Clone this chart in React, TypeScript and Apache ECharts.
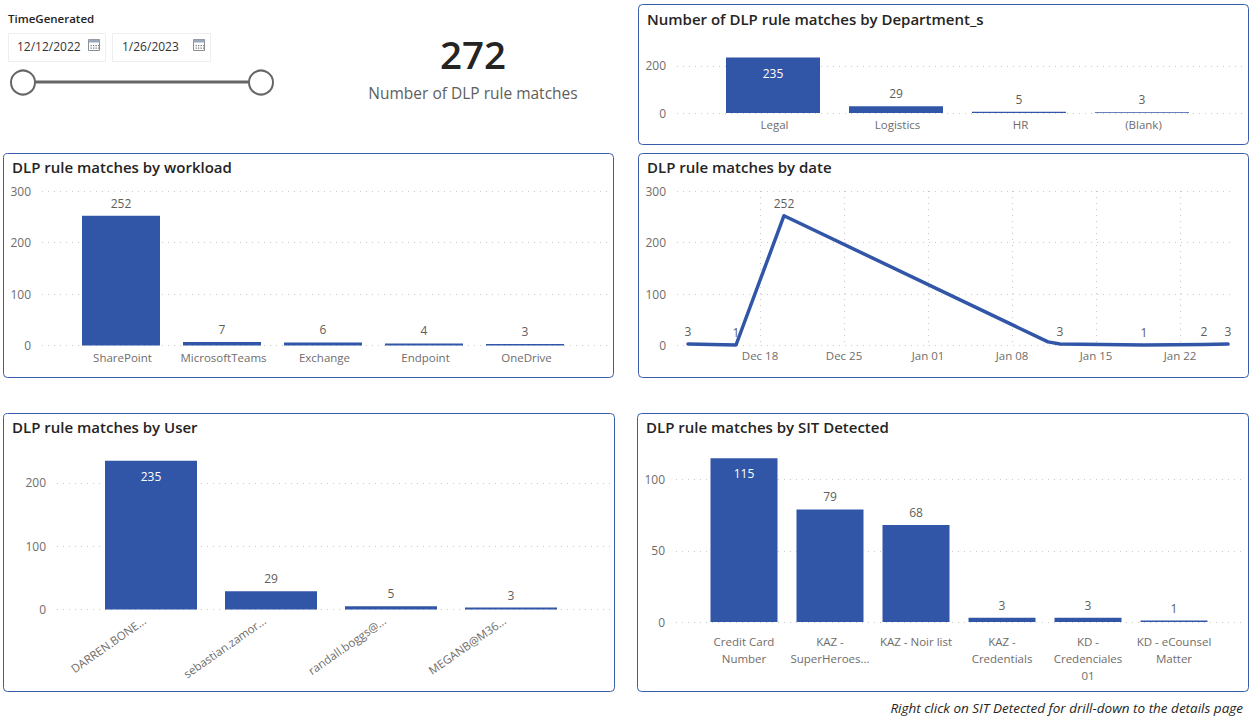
import React, { useEffect, useRef } from "react";
import * as echarts from "echarts";

const FONT = "'Open Sans', 'Noto Sans', sans-serif";
const BLUE = "#3256a7";
const BORDER = "#3a5dab";
const AXIS_TEXT = "#6f6d6b";
const LABEL_TEXT = "#605e5c";
const TITLE_TEXT = "#252423";
const GRID_LINE = "#c9c9c9";

const deptCategories = ["Legal", "Logistics", "HR", "(Blank)"];
const deptValues = [235, 29, 5, 3];

const workloadCategories = ["SharePoint", "MicrosoftTeams", "Exchange", "Endpoint", "OneDrive"];
const workloadValues = [252, 7, 6, 4, 3];

const dateDays = ["2022-12-12", "2022-12-16", "2022-12-20", "2023-01-11", "2023-01-12", "2023-01-19", "2023-01-24", "2023-01-26"];
const dateValues = [3, 1, 252, 7, 3, 1, 2, 3];
const dateUnlabelled = ["2023-01-11"];
const dateTicks = ["2022-12-18", "2022-12-25", "2023-01-01", "2023-01-08", "2023-01-15", "2023-01-22"];
const dateTickLabels = ["Dec 18", "Dec 25", "Jan 01", "Jan 08", "Jan 15", "Jan 22"];

const userCategories = ["DARREN.BONE...", "sebastian.zamor...", "randall.boggs@...", "MEGANB@M36..."];
const userValues = [235, 29, 5, 3];

const sitCategories = ["Credit Card\nNumber", "KAZ -\nSuperHeroes...", "KAZ - Noir list", "KAZ -\nCredentials", "KD -\nCredenciales\n01", "KD - eCounsel\nMatter"];
const sitValues = [115, 79, 68, 3, 3, 1];

const ms = (d: string) => new Date(d + "T00:00:00").getTime();

type Panel = {
  title: string; titleX: number; titleY: number;
  cats: string[]; vals: number[];
  axisL: number; axisR: number; bandL: number; bandR: number;
  top: number; bottom: number; max: number; step: number;
  barW: number; insideAbove: number; rotate?: number; labelMargin?: number; lineH?: number;
  labelPadding?: number[];
};

const panels: Panel[] = [
  { title: "Number of DLP rule matches by Department_s", titleX: 647, titleY: 11, cats: deptCategories, vals: deptValues, axisL: 677, axisR: 1243, bandL: 711.5, bandR: 1203.5, top: 54, bottom: 113, max: 250, step: 200, barW: 94, insideAbove: 100, labelMargin: 4, labelPadding: [0, 0, 0, 3] },
  { title: "DLP rule matches by workload", titleX: 12, titleY: 159, cats: workloadCategories, vals: workloadValues, axisL: 42, axisR: 607, bandL: 70.5, bandR: 575.5, top: 191, bottom: 345.5, max: 300, step: 100, barW: 78, insideAbove: 1000, labelMargin: 4, labelPadding: [0, 0, 0, 3] },
  { title: "DLP rule matches by User", titleX: 12, titleY: 419, cats: userCategories, vals: userValues, axisL: 57, axisR: 610, bandL: 91, bandR: 571, top: 457.5, bottom: 609.5, max: 240, step: 100, barW: 92, insideAbove: 100, rotate: 35, labelMargin: 5, labelPadding: [0, 8, 0, 0] },
  { title: "DLP rule matches by SIT Detected", titleX: 646, titleY: 419, cats: sitCategories, vals: sitValues, axisL: 676, axisR: 1243, bandL: 701, bandR: 1217, top: 451, bottom: 622, max: 120, step: 50, barW: 67, insideAbove: 100, labelMargin: 11, lineH: 17, labelPadding: [0, 0, 0, 0] },
];

const cardBoxes = [
  [638.5, 4.5, 610, 140],
  [3.5, 153.5, 610, 224],
  [638.5, 153.5, 610, 224],
  [3.5, 413.5, 611, 278],
  [637.5, 413.5, 611, 278],
];

const splitLine = { show: true, lineStyle: { color: GRID_LINE, type: [1, 5] as number[], width: 1 } };
const axisLabelBase = { color: AXIS_TEXT, fontFamily: FONT, fontSize: 12 };
const titleStyle = { color: TITLE_TEXT, fontFamily: FONT, fontSize: 15, fontWeight: 600 as const };

function dataLabel(value: number, threshold: number) {
  return value >= threshold
    ? { show: true, position: "insideTop" as const, distance: 9.5, color: "#ffffff", fontFamily: FONT, fontSize: 12 }
    : { show: true, position: "top" as const, distance: 6.5, color: LABEL_TEXT, fontFamily: FONT, fontSize: 12 };
}

function calendar(x: number, y: number) {
  const dots = [];
  for (let r = 0; r < 2; r++) for (let c = 0; c < 4; c++) {
    dots.push({ type: "rect", shape: { x: 2.5 + c * 2.5, y: 6 + r * 2.5, width: 1.3, height: 1.3 }, style: { fill: "#7a7a7a" } });
  }
  return {
    type: "group", x, y, silent: true,
    children: [
      { type: "rect", shape: { x: 0.5, y: 0.5, width: 11, height: 11 }, style: { fill: "#fff", stroke: "#8a8f96", lineWidth: 1 } },
      { type: "rect", shape: { x: 0.5, y: 0.5, width: 11, height: 3 }, style: { fill: "#9aa7b8" } },
      ...dots,
    ],
  };
}

function buildOption() {
  const grids: any[] = [];
  const xAxes: any[] = [];
  const yAxes: any[] = [];
  const series: any[] = [];

  panels.forEach((p) => {
    // gridline layer: spans the whole plot width and carries the value axis
    const gridA = grids.length;
    grids.push({ left: p.axisL, width: p.axisR - p.axisL, top: p.top, height: p.bottom - p.top });
    xAxes.push({ gridIndex: gridA, type: "category", show: false, data: p.cats });
    yAxes.push({
      gridIndex: gridA, type: "value", min: 0, max: p.max, interval: p.step,
      axisLine: { show: false }, axisTick: { show: false },
      axisLabel: { ...axisLabelBase, margin: 11, showMaxLabel: p.max % p.step === 0 },
      splitLine: { ...splitLine, showMaxLine: p.max % p.step === 0 },
    });
    // mark layer: the inset band area holding the columns and category labels
    const gridB = grids.length;
    grids.push({ left: p.bandL, width: p.bandR - p.bandL, top: p.top, height: p.bottom - p.top });
    xAxes.push({
      gridIndex: gridB, type: "category", data: p.cats,
      axisLine: { show: false }, axisTick: { show: false },
      axisLabel: {
        ...axisLabelBase, fontSize: 11.5, interval: 0, margin: p.labelMargin ?? 6, rotate: p.rotate ?? 0,
        lineHeight: p.lineH ?? 15, padding: p.labelPadding ?? 0,
      },
    });
    yAxes.push({ gridIndex: gridB, type: "value", min: 0, max: p.max, show: false, splitLine: { show: false } });
    series.push({
      type: "bar", xAxisIndex: gridB, yAxisIndex: gridB, barWidth: p.barW,
      itemStyle: { color: BLUE },
      data: p.vals.map((v) => ({ value: v, label: dataLabel(v, p.insideAbove) })),
    });
  });

  // date panel: one continuous date axis, with weekly ticks
  const gridD = grids.length;
  const tickValues = dateTicks.map(ms);
  grids.push({ left: 677, width: 558, top: 191, height: 154.5 });
  xAxes.push({
    gridIndex: gridD, type: "value",
    min: new Date("2022-12-11T02:00:00").getTime(),
    max: new Date("2023-01-26T14:00:00").getTime(),
    axisLine: { show: false },
    axisTick: { show: false, customValues: tickValues },
    axisLabel: {
      ...axisLabelBase, fontSize: 11.5, margin: 4, hideOverlap: false,
      customValues: tickValues,
      formatter: (v: number) => dateTickLabels[tickValues.indexOf(v)] ?? "",
    },
    splitLine,
  });
  yAxes.push({
    gridIndex: gridD, type: "value", min: 0, max: 300, interval: 100,
    axisLine: { show: false }, axisTick: { show: false },
    axisLabel: { ...axisLabelBase, margin: 11 },
    splitLine,
  });
  series.push({
    type: "line", xAxisIndex: gridD, yAxisIndex: gridD,
    symbol: "circle", symbolSize: 1, z: 5,
    lineStyle: { color: BLUE, width: 3.5, join: "round", cap: "round" },
    itemStyle: { color: BLUE },
    data: dateDays.map((d, i) => ({
      value: [ms(d), dateValues[i]],
      label: { show: !dateUnlabelled.includes(d), position: "top", distance: 6, color: LABEL_TEXT, fontFamily: FONT, fontSize: 12 },
    })),
  });

  return {
    animation: false,
    backgroundColor: "#ffffff",
    title: [
      ...panels.map((p) => ({ text: p.title, left: p.titleX, top: p.titleY, padding: 0, textStyle: titleStyle })),
      { text: "DLP rule matches by date", left: 647, top: 159, padding: 0, textStyle: titleStyle },
    ],
    grid: grids,
    xAxis: xAxes,
    yAxis: yAxes,
    series,
    graphic: [
      ...cardBoxes.map(([x, y, width, height]) => ({
        type: "rect", silent: true, z: -1,
        shape: { x, y, width, height, r: 4 },
        style: { fill: "#ffffff", stroke: BORDER, lineWidth: 1 },
      })),
      { type: "text", x: 8, y: 12, style: { text: "TimeGenerated", fill: "#252423", font: `600 11.5px ${FONT}` } },
      { type: "rect", shape: { x: 8.5, y: 33.5, width: 97, height: 28 }, style: { fill: "#fff", stroke: "#eeeeee", lineWidth: 1 } },
      { type: "rect", shape: { x: 112.5, y: 33.5, width: 98, height: 28 }, style: { fill: "#fff", stroke: "#eeeeee", lineWidth: 1 } },
      { type: "text", x: 17, y: 40, style: { text: "12/12/2022", fill: "#333333", font: `12px ${FONT}` } },
      { type: "text", x: 122, y: 40, style: { text: "1/26/2023", fill: "#333333", font: `12px ${FONT}` } },
      calendar(88, 39),
      calendar(193, 39),
      { type: "line", shape: { x1: 34, y1: 82, x2: 249, y2: 82 }, style: { stroke: "#666666", lineWidth: 3 } },
      { type: "circle", shape: { cx: 23, cy: 82.5, r: 12 }, style: { fill: "#fff", stroke: "#666666", lineWidth: 2 } },
      { type: "circle", shape: { cx: 261, cy: 82.5, r: 12 }, style: { fill: "#fff", stroke: "#666666", lineWidth: 2 } },
      { type: "text", x: 473, y: 53.5, style: { text: "272", fill: "#252423", font: `600 38.5px ${FONT}`, align: "center", verticalAlign: "middle" } },
      { type: "text", x: 473, y: 93, style: { text: "Number of DLP rule matches", fill: "#605e5c", font: `15.5px ${FONT}`, align: "center", verticalAlign: "middle" } },
      { type: "text", x: 1243, y: 708, style: { text: "Right click on SIT Detected for drill-down to the details page", fill: "#252423", font: `italic 13.5px ${FONT}`, align: "right", verticalAlign: "middle" } },
    ],
  };
}

export default function App() {
  const ref = useRef<HTMLDivElement>(null);
  useEffect(() => {
    if (!ref.current) return;
    const chart = echarts.init(ref.current, undefined, { renderer: "svg" });
    chart.setOption(buildOption() as any);
    return () => chart.dispose();
  }, []);
  return <div ref={ref} style={{ position: "absolute", left: 0, top: 0, width: 1257, height: 718 }} />;
}
